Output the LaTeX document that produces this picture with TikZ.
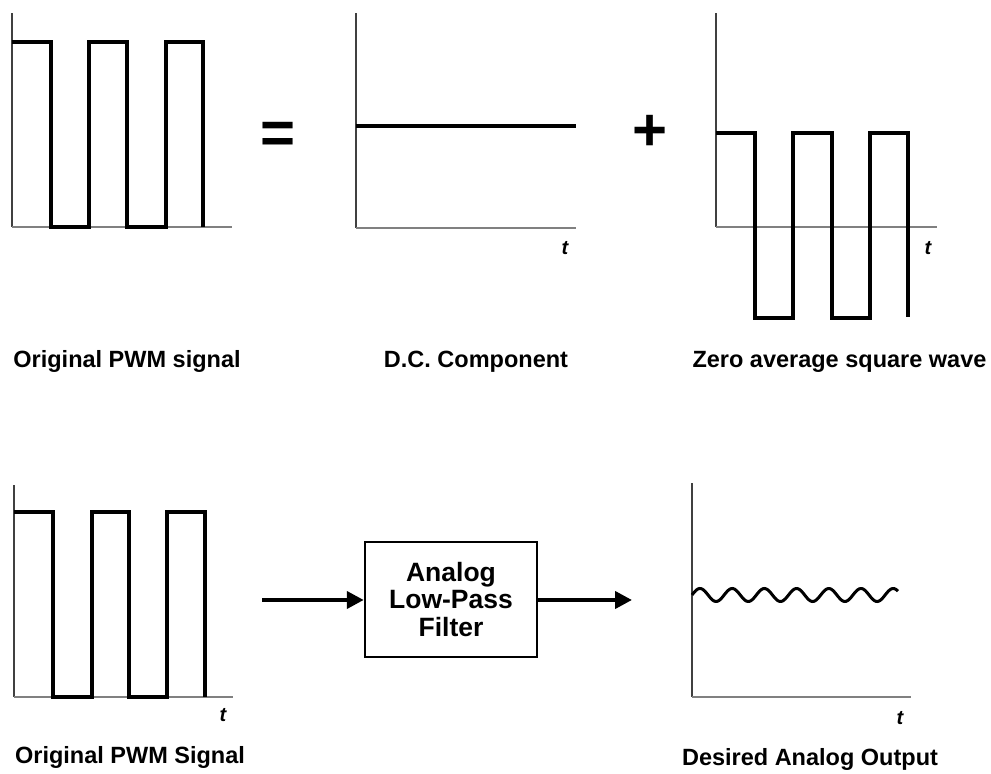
\documentclass[tikz,border=0pt]{standalone}
\usepackage{fontspec}
\setmainfont{Liberation Sans}
\usetikzlibrary{arrows.meta}
\begin{document}
\begin{tikzpicture}[x=1pt,y=1pt,
  sig/.style={line width=3.2pt, black, line join=miter},
  yax/.style={line width=1.8pt, black!75},
  xax/.style={line width=2pt, black!50},
  lbl/.style={anchor=base, inner sep=0pt, font=\fontsize{23.5}{28}\selectfont\bfseries},
  tlbl/.style={anchor=base, inner sep=0pt, font=\fontsize{20}{24}\selectfont\bfseries\itshape},
  opsym/.style={anchor=base, inner sep=0pt, font=\fontsize{60}{60}\selectfont\bfseries},
  filterbox/.style={draw, line width=2.5pt, minimum width=172pt, minimum height=115pt, inner sep=0pt, align=center, font=\fontsize{26.5}{27.5}\selectfont\bfseries},
  flow/.style={line width=4pt, -{Triangle[length=17pt,width=17pt]}}
]
\useasboundingbox (0,0) rectangle (991,774);

% ---------- Panel 1: original PWM (top) ----------
\coordinate (p1o) at (12,547);
\draw[yax] (p1o) -- (12,761);
\draw[xax] (p1o) -- (232,547);
\draw[sig] (12,732) -- (51,732) -- (51,547) -- (89,547) -- (89,732) -- (127,732) -- (127,547) -- (166,547) -- (166,732) -- (203,732) -- (203,547);
\node[lbl] (l1) at (127,406) {Original PWM signal};

\node[opsym] (eq) at (278.5,620) {=};

% ---------- Panel 2: DC component ----------
\coordinate (p2o) at (356,546);
\draw[yax] (p2o) -- (356,761);
\draw[xax] (p2o) -- (576,546);
\draw[sig] (356,648) -- (576,648);
\node[tlbl] (t2) at (565,519) {t};
\node[lbl] (l2) at (476,406) {D.C. Component};

\node[opsym] (plus) at (650.5,623) {+};

% ---------- Panel 3: zero average square wave ----------
\coordinate (p3o) at (716,547);
\draw[yax] (p3o) -- (716,761);
\draw[xax] (p3o) -- (937,547);
\draw[sig] (716,641) -- (755,641) -- (755,456) -- (793,456) -- (793,641) -- (832,641) -- (832,456) -- (870,456) -- (870,641) -- (908,641) -- (908,457);
\node[tlbl] (t3) at (928,519) {t};
\node[lbl] (l3) at (839.5,406) {Zero average square wave};

% ---------- Panel 4: original PWM (bottom) ----------
\coordinate (p4o) at (14,77);
\draw[yax] (p4o) -- (14,289);
\draw[xax] (p4o) -- (233,77);
\draw[sig] (14,262) -- (53,262) -- (53,77) -- (92,77) -- (92,262) -- (129,262) -- (129,77) -- (167,77) -- (167,262) -- (205,262) -- (205,77);
\node[tlbl] (t4) at (223,52) {t};
\node[lbl] (l4) at (130,10) {Original PWM Signal};

% ---------- Filter ----------
\node[filterbox] (filt) at (451,174.5) {Analog\\Low-Pass\\Filter};
\coordinate (ain) at (262,174);
\coordinate (aout) at (632,174);
\draw[flow] (ain) -- (filt.west |- ain);
\draw[flow] (filt.east |- aout) -- (aout);

% ---------- Panel 5: desired analog output ----------
\coordinate (p5o) at (692,77);
\draw[yax] (p5o) -- (692,291);
\draw[xax] (p5o) -- (911,77);
\draw[line width=3pt, black] plot[domain=692:898, samples=160, smooth] (\x, {179 + 6.5*cos((\x-700)*11.18)});
\node[tlbl] (t5) at (900,49) {t};
\node[lbl] (l5) at (810,8) {Desired Analog Output};
\end{tikzpicture}
\end{document}
